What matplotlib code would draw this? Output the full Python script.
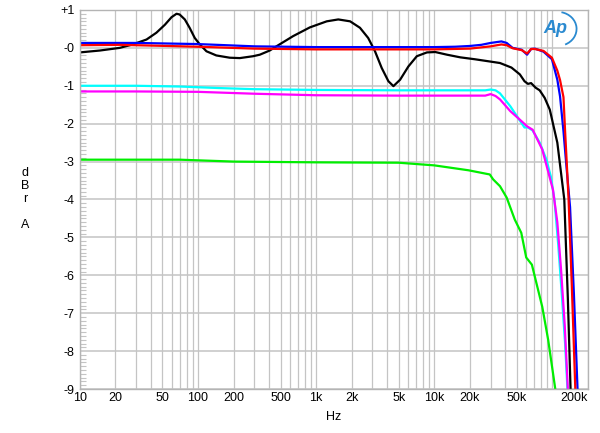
import matplotlib
matplotlib.use("Agg")
from matplotlib import pyplot as plt
from matplotlib.patches import Arc
from matplotlib.ticker import FixedLocator, NullFormatter
import numpy as np

plt.rcParams['font.family'] = ['Liberation Sans', 'DejaVu Sans']

# frequency response curves (Hz, dBr)
black_f = [10, 14.8, 21.8, 28, 36.7, 44.5, 52.5, 59.8, 65.9, 70, 77.4, 85, 94, 103.8,
           118, 143, 186, 226, 293, 334, 405, 461, 639, 885, 1230, 1540, 1940, 2350,
           2760, 3150, 3590, 4090, 4510, 5140, 6040, 7120, 8670, 10200, 12800, 16600,
           22000, 29600, 36000, 45000, 53000, 58000, 62000, 66000, 72000, 78000,
           86000, 95000, 110000, 126000, 135000, 143000]
black_db = [-0.12, -0.07, 0.0, 0.09, 0.22, 0.4, 0.61, 0.81, 0.9, 0.88, 0.75, 0.53,
            0.26, 0.09, -0.09, -0.2, -0.26, -0.27, -0.22, -0.18, -0.07, 0.04, 0.31,
            0.54, 0.7, 0.75, 0.7, 0.53, 0.26, -0.09, -0.53, -0.88, -1.01, -0.84, -0.49,
            -0.22, -0.12, -0.11, -0.18, -0.25, -0.3, -0.36, -0.4, -0.52, -0.7, -0.88,
            -0.95, -0.93, -1.05, -1.12, -1.32, -1.63, -2.5, -4.0, -6.6, -9.2]

blue_f = [10, 30, 100, 300, 1000, 5000, 10000, 15000, 20000, 25000, 30000, 37000,
          41000, 46000, 55000, 61000, 66000, 71000, 84000, 99000, 110000, 116000,
          124000, 132000, 141000, 152000, 164000]
blue_db = [0.13, 0.13, 0.1, 0.04, 0.02, 0.02, 0.02, 0.03, 0.05, 0.08, 0.13, 0.17,
           0.13, 0.0, -0.05, -0.18, -0.03, -0.02, -0.1, -0.3, -0.84, -1.28,
           -2.2, -3.2, -4.2, -6.5, -9.2]

red_f = [10, 22, 100, 300, 1000, 5000, 10000, 20000, 30000, 37000, 41000, 46000,
         55000, 61000, 66000, 71000, 84000, 99000, 110000, 116000, 124000, 128000,
         132000, 137000, 146000, 157000]
red_db = [0.07, 0.08, 0.03, -0.02, -0.04, -0.04, -0.04, -0.02, 0.04, 0.09, 0.07,
          -0.01, -0.06, -0.15, -0.03, -0.03, -0.08, -0.26, -0.6, -0.85, -1.3, -2.2,
          -3.0, -4.0, -6.3, -9.2]

cyan_f = [10, 30, 70, 150, 300, 1000, 5000, 20000, 27000, 30000, 33000, 36000,
          44000, 50000, 58000, 62000, 68000, 78000, 89000, 97000, 104000, 112000,
          120000, 128000, 135000]
cyan_db = [-1.0, -1.0, -1.02, -1.06, -1.09, -1.11, -1.12, -1.12, -1.12, -1.1, -1.12,
           -1.2, -1.54, -1.8, -2.1, -2.1, -2.18, -2.5, -2.95, -3.4, -4.0, -5.2,
           -6.5, -7.8, -9.2]

magenta_f = [10, 30, 100, 300, 1000, 5000, 20000, 27000, 30000, 33000, 36000, 44000,
             55000, 61000, 68000, 82000, 101000, 110000, 118000, 127000, 136000]
magenta_db = [-1.15, -1.15, -1.16, -1.21, -1.25, -1.26, -1.26, -1.26, -1.22, -1.27,
              -1.36, -1.67, -1.94, -2.07, -2.16, -2.68, -3.74, -4.6, -5.8, -7.3, -9.2]

green_f = [10, 70, 200, 1000, 5000, 10000, 19500, 29500, 31500, 36000, 41000, 48000,
           54500, 60000, 67000, 82000, 92000, 108000]
green_db = [-2.95, -2.95, -3.0, -3.02, -3.03, -3.1, -3.23, -3.34, -3.47, -3.65, -3.95,
            -4.53, -4.88, -5.53, -5.72, -6.83, -7.7, -9.2]

xticks = [10, 20, 50, 100, 200, 500, 1000, 2000, 5000, 10000, 20000, 50000, 200000]
xlabels = ['10', '20', '50', '100', '200', '500', '1k', '2k', '5k', '10k', '20k', '50k', '200k']
yticks = [1, 0, -1, -2, -3, -4, -5, -6, -7, -8, -9]
ylabels = ['+1', '-0', '-1', '-2', '-3', '-4', '-5', '-6', '-7', '-8', '-9']

fig = plt.figure(figsize=(6, 4.33), dpi=100)
ax = fig.add_axes([0.133, 0.1016, 0.847, 0.8754])
ax.set_xscale('log')
ax.set_xlim(10, 200000)
ax.set_ylim(-9, 1)

# grid
gridx = [m * 10 ** d for d in range(1, 6) for m in range(1, 10) if m * 10 ** d <= 200000]
for g in gridx:
    ax.axvline(g, color='#c4c4c4', lw=0.9, zorder=0)
for g in yticks:
    ax.axhline(g, color='#c4c4c4', lw=1.1, zorder=0)

lw = 1.6
kw = dict(lw=lw, solid_joinstyle='round', solid_capstyle='round')
ax.plot(green_f, green_db, color='#00ee00', **kw)
ax.plot(cyan_f, cyan_db, color='#00ffff', **kw)
ax.plot(magenta_f, magenta_db, color='#ff00ff', **kw)
ax.plot(black_f, black_db, color='black', **kw)
ax.plot(blue_f, blue_db, color='#0000ff', **kw)
ax.plot(red_f, red_db, color='#ff0000', **kw)

ax.xaxis.set_major_locator(FixedLocator(xticks))
ax.set_xticklabels(xlabels)
ax.get_xticklabels()[-1].set_ha('right')
ax.xaxis.set_minor_formatter(NullFormatter())
ax.tick_params(axis='x', which='both', length=0, labelsize=9, pad=2)
ax.set_yticks(yticks)
ax.set_yticklabels(ylabels)
ax.yaxis.set_minor_locator(FixedLocator(np.arange(-9, 1.01, 0.1)))
ax.tick_params(axis='y', which='major', direction='in', length=0, labelsize=9, pad=4)
ax.tick_params(axis='y', which='minor', direction='in', length=4, color='#c4c4c4', width=0.8)

for s in ax.spines.values():
    s.set_color('#b4b4b4')
    s.set_linewidth(1)

ax.set_xlabel('Hz', fontsize=9, labelpad=5)
fig.text(0.042, 0.54, 'd\nB\nr\n\nA', fontsize=9, ha='center', va='center', linespacing=1.1)

# AP logo
ax.text(0.935, 0.95, 'Ap', transform=ax.transAxes, fontsize=13, style='italic',
        color='#2a8ad0', ha='center', va='center', fontweight='bold')
ax.add_patch(Arc((0.94, 0.95), 0.075, 0.09, theta1=-70, theta2=80,
                 transform=ax.transAxes, color='#2a8ad0', lw=1.3))

fig.savefig('out.png', dpi=100)
